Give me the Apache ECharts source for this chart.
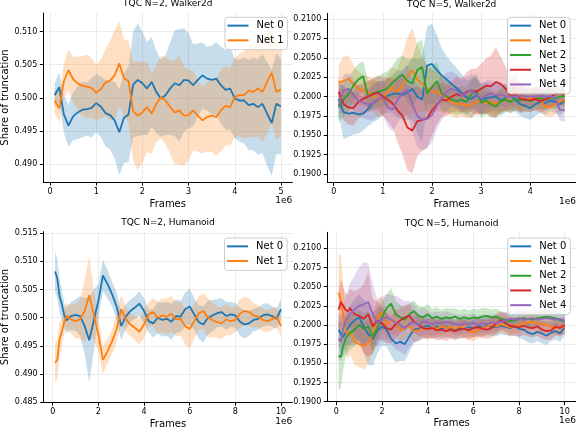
<!DOCTYPE html>
<html>
<head>
<meta charset="utf-8">
<script src="https://cdn.jsdelivr.net/npm/echarts@6/dist/echarts.min.js"></script>
<style>
  html, body { margin: 0; padding: 0; background: #fff; }
  #chart { width: 576px; height: 432px; }
</style>
</head>
<body>
<div id="chart"></div>
<script>
// frames (in 1e6) sampled along each run
const w2Frames = [0.1, 0.2, 0.3, 0.4, 0.5, 0.6, 0.7, 0.8, 0.9, 1.0,
  1.1, 1.2, 1.3, 1.4, 1.5, 1.6, 1.7, 1.8, 1.9, 2.0,
  2.1, 2.2, 2.3, 2.4, 2.5, 2.6, 2.7, 2.8, 2.9, 3.0,
  3.1, 3.2, 3.3, 3.4, 3.5, 3.6, 3.7, 3.8, 3.9, 4.0,
  4.1, 4.2, 4.3, 4.4, 4.5, 4.6, 4.7, 4.8, 4.9, 5.0]
const w5Frames = [0.1, 0.2, 0.3, 0.4, 0.5, 0.6, 0.7, 0.8, 0.9, 1.0,
  1.1, 1.2, 1.3, 1.4, 1.5, 1.6, 1.7, 1.8, 1.9, 2.0,
  2.1, 2.2, 2.3, 2.4, 2.5, 2.6, 2.7, 2.8, 2.9, 3.0,
  3.1, 3.2, 3.3, 3.4, 3.5, 3.6, 3.7, 3.8, 3.9, 4.0,
  4.1, 4.2, 4.3, 4.4, 4.5, 4.6, 4.7]
const humFrames = [0.1, 0.2, 0.3, 0.4, 0.5, 0.6,
  0.8, 1.0, 1.2, 1.4, 1.6, 1.8, 2.0, 2.2, 2.4, 2.6,
  2.8, 3.0, 3.2, 3.4, 3.6, 3.8, 4.0, 4.2, 4.4, 4.6,
  4.8, 5.0, 5.2, 5.4, 5.6, 5.8, 6.0, 6.2, 6.4, 6.6,
  6.8, 7.0, 7.2, 7.4, 7.6, 7.8, 8.0, 8.2, 8.4, 8.6,
  8.8, 9.0, 9.2, 9.4, 9.6, 9.8, 10.0]

// TQC N=2, Walker2d: mean share and half width of the shaded band
const w2Net0 = [0.5004, 0.5016, 0.4975, 0.4958, 0.4972, 0.4978, 0.4982, 0.4983, 0.4985, 0.4992,
  0.4987, 0.4977, 0.4974, 0.4966, 0.4948, 0.4970, 0.4975, 0.5020, 0.5027, 0.5022,
  0.5014, 0.5024, 0.5009, 0.4999, 0.5004, 0.5014, 0.5022, 0.5019, 0.5027, 0.5026,
  0.5019, 0.5027, 0.5034, 0.5029, 0.5027, 0.5029, 0.5019, 0.5012, 0.5014, 0.4999,
  0.4996, 0.4996, 0.4989, 0.4991, 0.4986, 0.4991, 0.4976, 0.4962, 0.4991, 0.4987]
const w2Net1 = [0.4996, 0.4984, 0.5025, 0.5042, 0.5028, 0.5022, 0.5018, 0.5017, 0.5015, 0.5008,
  0.5013, 0.5023, 0.5026, 0.5034, 0.5052, 0.5030, 0.5025, 0.4980, 0.4973, 0.4978,
  0.4986, 0.4976, 0.4991, 0.5001, 0.4996, 0.4986, 0.4978, 0.4981, 0.4973, 0.4974,
  0.4981, 0.4973, 0.4966, 0.4971, 0.4973, 0.4971, 0.4981, 0.4988, 0.4986, 0.5001,
  0.5004, 0.5004, 0.5011, 0.5009, 0.5014, 0.5009, 0.5024, 0.5038, 0.5009, 0.5013]
const w2Band0 = [0.0018, 0.0022, 0.0028, 0.0032, 0.0036, 0.0040, 0.0042, 0.0040, 0.0045, 0.0044,
  0.0046, 0.0050, 0.0052, 0.0058, 0.0065, 0.0068, 0.0072, 0.0080, 0.0085, 0.0078,
  0.0070, 0.0068, 0.0062, 0.0058, 0.0060, 0.0070, 0.0080, 0.0085, 0.0078, 0.0072,
  0.0062, 0.0055, 0.0050, 0.0048, 0.0052, 0.0055, 0.0058, 0.0060, 0.0062, 0.0060,
  0.0062, 0.0065, 0.0068, 0.0070, 0.0072, 0.0075, 0.0078, 0.0080, 0.0076, 0.0072]
const w2Band1 = [0.0018, 0.0022, 0.0026, 0.0030, 0.0034, 0.0040, 0.0045, 0.0048, 0.0045, 0.0042,
  0.0045, 0.0050, 0.0060, 0.0068, 0.0064, 0.0058, 0.0062, 0.0075, 0.0082, 0.0076,
  0.0068, 0.0060, 0.0058, 0.0062, 0.0066, 0.0070, 0.0078, 0.0082, 0.0075, 0.0068,
  0.0060, 0.0054, 0.0050, 0.0052, 0.0055, 0.0058, 0.0062, 0.0060, 0.0058, 0.0060,
  0.0062, 0.0066, 0.0070, 0.0068, 0.0072, 0.0075, 0.0078, 0.0076, 0.0072, 0.0070]

// TQC N=5, Walker2d
const w5Net0 = [0.1997, 0.1980, 0.1978, 0.1979, 0.1977, 0.1978, 0.1984, 0.1992, 0.1995, 0.1998,
  0.2001, 0.2003, 0.2004, 0.2002, 0.2005, 0.2010, 0.2000, 0.1996, 0.2040, 0.2042,
  0.2034, 0.2027, 0.2022, 0.2016, 0.2011, 0.2005, 0.1999, 0.1997, 0.2002, 0.1996,
  0.1998, 0.1999, 0.2000, 0.1995, 0.1998, 0.2001, 0.1996, 0.1990, 0.1988, 0.1985,
  0.1990, 0.1993, 0.1991, 0.1995, 0.1993, 0.1990, 0.1995]
const w5Net1 = [0.2018, 0.2020, 0.2023, 0.2016, 0.2010, 0.2008, 0.2006, 0.2001, 0.1996, 0.1995,
  0.2007, 0.2012, 0.2006, 0.2015, 0.2026, 0.2034, 0.2022, 0.2016, 0.2010, 0.2007,
  0.2006, 0.2002, 0.1997, 0.1993, 0.1990, 0.1991, 0.1988, 0.1990, 0.1993, 0.1994,
  0.1991, 0.1993, 0.1990, 0.1994, 0.1995, 0.2003, 0.2008, 0.1998, 0.2001, 0.1997,
  0.2000, 0.1995, 0.1988, 0.1986, 0.1990, 0.1993, 0.1996]
const w5Net2 = [0.1986, 0.1996, 0.2003, 0.2014, 0.2022, 0.2026, 0.2000, 0.2004, 0.2006, 0.2008,
  0.2011, 0.2018, 0.2024, 0.2028, 0.2020, 0.2017, 0.2034, 0.2038, 0.2004, 0.2012,
  0.2020, 0.2004, 0.2000, 0.1996, 0.1994, 0.1996, 0.1993, 0.2003, 0.2007, 0.1992,
  0.1995, 0.1990, 0.1987, 0.1994, 0.1996, 0.1993, 0.1997, 0.1995, 0.1996, 0.1994,
  0.1997, 0.1998, 0.1996, 0.1999, 0.1997, 0.2000, 0.2000]
const w5Net3 = [0.2006, 0.1990, 0.1986, 0.1985, 0.1993, 0.1997, 0.2000, 0.2003, 0.2005, 0.2000,
  0.1996, 0.1991, 0.1982, 0.1975, 0.1960, 0.1956, 0.1968, 0.1970, 0.1972, 0.1982,
  0.1990, 0.1996, 0.1995, 0.2000, 0.2003, 0.2001, 0.2006, 0.2008, 0.2006, 0.2010,
  0.2014, 0.2013, 0.2019, 0.2016, 0.2010, 0.2001, 0.2003, 0.1997, 0.1996, 0.1995,
  0.1997, 0.1994, 0.1996, 0.1999, 0.2003, 0.2004, 0.2002]
const w5Net4 = [0.1988, 0.2008, 0.2010, 0.2002, 0.1995, 0.1992, 0.1990, 0.1991, 0.1997, 0.1998,
  0.1986, 0.1983, 0.1996, 0.2004, 0.2009, 0.1990, 0.1975, 0.1970, 0.1971, 0.1976,
  0.1988, 0.1998, 0.2006, 0.2010, 0.2008, 0.2001, 0.2004, 0.2008, 0.2003, 0.1997,
  0.2002, 0.2004, 0.2001, 0.2003, 0.2000, 0.2000, 0.2000, 0.2001, 0.2000, 0.2000,
  0.2000, 0.2001, 0.2000, 0.2000, 0.1999, 0.1983, 0.1982]
const w5Band0 = [0.0020, 0.0035, 0.0030, 0.0028, 0.0025, 0.0022, 0.0022, 0.0025, 0.0025, 0.0022,
  0.0022, 0.0025, 0.0030, 0.0032, 0.0035, 0.0040, 0.0048, 0.0055, 0.0050, 0.0052,
  0.0045, 0.0035, 0.0030, 0.0028, 0.0026, 0.0024, 0.0022, 0.0025, 0.0022, 0.0020,
  0.0020, 0.0018, 0.0018, 0.0020, 0.0018, 0.0018, 0.0016, 0.0015, 0.0016, 0.0015,
  0.0015, 0.0014, 0.0015, 0.0014, 0.0014, 0.0015, 0.0014]
const w5Band1 = [0.0022, 0.0032, 0.0030, 0.0025, 0.0022, 0.0020, 0.0020, 0.0022, 0.0022, 0.0020,
  0.0022, 0.0025, 0.0030, 0.0040, 0.0050, 0.0055, 0.0045, 0.0035, 0.0030, 0.0028,
  0.0025, 0.0022, 0.0020, 0.0018, 0.0018, 0.0016, 0.0016, 0.0018, 0.0016, 0.0015,
  0.0015, 0.0015, 0.0016, 0.0015, 0.0014, 0.0018, 0.0022, 0.0018, 0.0015, 0.0014,
  0.0014, 0.0014, 0.0013, 0.0013, 0.0014, 0.0013, 0.0013]
const w5Band2 = [0.0020, 0.0022, 0.0022, 0.0020, 0.0020, 0.0020, 0.0020, 0.0020, 0.0020, 0.0022,
  0.0022, 0.0022, 0.0025, 0.0025, 0.0028, 0.0032, 0.0036, 0.0035, 0.0030, 0.0028,
  0.0025, 0.0022, 0.0020, 0.0018, 0.0018, 0.0018, 0.0018, 0.0020, 0.0022, 0.0020,
  0.0018, 0.0016, 0.0016, 0.0016, 0.0015, 0.0015, 0.0015, 0.0015, 0.0014, 0.0014,
  0.0014, 0.0014, 0.0013, 0.0013, 0.0013, 0.0013, 0.0013]
const w5Band3 = [0.0018, 0.0020, 0.0022, 0.0022, 0.0022, 0.0020, 0.0020, 0.0020, 0.0022, 0.0025,
  0.0028, 0.0032, 0.0040, 0.0050, 0.0055, 0.0055, 0.0045, 0.0040, 0.0038, 0.0032,
  0.0026, 0.0022, 0.0020, 0.0020, 0.0022, 0.0022, 0.0025, 0.0028, 0.0030, 0.0032,
  0.0035, 0.0040, 0.0045, 0.0035, 0.0028, 0.0022, 0.0020, 0.0018, 0.0016, 0.0015,
  0.0015, 0.0015, 0.0014, 0.0014, 0.0014, 0.0014, 0.0013]
const w5Band4 = [0.0018, 0.0020, 0.0020, 0.0020, 0.0020, 0.0020, 0.0020, 0.0022, 0.0022, 0.0022,
  0.0025, 0.0028, 0.0030, 0.0030, 0.0032, 0.0035, 0.0040, 0.0040, 0.0038, 0.0035,
  0.0030, 0.0028, 0.0025, 0.0022, 0.0020, 0.0020, 0.0020, 0.0022, 0.0022, 0.0020,
  0.0018, 0.0018, 0.0016, 0.0015, 0.0015, 0.0012, 0.0012, 0.0012, 0.0012, 0.0012,
  0.0012, 0.0012, 0.0012, 0.0012, 0.0012, 0.0014, 0.0015]

// TQC N=2, Humanoid
const h2Net0 = [0.5082, 0.5070, 0.5038, 0.5024, 0.5005, 0.4995,
  0.5003, 0.5005, 0.5003, 0.4985, 0.4960, 0.4995, 0.5030, 0.5075, 0.5060, 0.5042,
  0.5020, 0.4985, 0.5002, 0.5012, 0.5018, 0.5025, 0.5012, 0.4994, 0.4990, 0.5000,
  0.4996, 0.4998, 0.4993, 0.5003, 0.5002, 0.5015, 0.5020, 0.5006, 0.4992, 0.4988,
  0.5000, 0.5004, 0.5008, 0.5010, 0.5003, 0.5006, 0.5004, 0.4993, 0.4988, 0.4990,
  0.4996, 0.4998, 0.5004, 0.5006, 0.5003, 0.4998, 0.5015]
const h2Net1 = [0.4920, 0.4925, 0.4962, 0.4975, 0.4992, 0.5004,
  0.4997, 0.4994, 0.4997, 0.5012, 0.5040, 0.5005, 0.4970, 0.4925, 0.4940, 0.4958,
  0.4980, 0.5015, 0.4998, 0.4988, 0.4982, 0.4975, 0.4988, 0.5006, 0.5010, 0.5000,
  0.5004, 0.5002, 0.5007, 0.4997, 0.4998, 0.4985, 0.4980, 0.4994, 0.5008, 0.5012,
  0.5000, 0.4996, 0.4992, 0.4990, 0.4997, 0.4994, 0.4996, 0.5007, 0.5012, 0.5010,
  0.5004, 0.5002, 0.4996, 0.4994, 0.4997, 0.5002, 0.4985]
const h2Band0 = [0.0035, 0.0035, 0.0030, 0.0025, 0.0022, 0.0022, 0.0025, 0.0028, 0.0035, 0.0050,
  0.0075, 0.0055, 0.0030, 0.0028, 0.0025, 0.0022, 0.0025, 0.0025, 0.0022, 0.0020,
  0.0020, 0.0022, 0.0022, 0.0020, 0.0025, 0.0028, 0.0030, 0.0030, 0.0032, 0.0030,
  0.0028, 0.0030, 0.0032, 0.0028, 0.0030, 0.0032, 0.0030, 0.0028, 0.0025, 0.0025,
  0.0025, 0.0022, 0.0022, 0.0025, 0.0025, 0.0022, 0.0020, 0.0020, 0.0020, 0.0020,
  0.0018, 0.0018, 0.0018]
const h2Band1 = [0.0035, 0.0035, 0.0030, 0.0025, 0.0022, 0.0022, 0.0025, 0.0030, 0.0035, 0.0055,
  0.0070, 0.0045, 0.0030, 0.0025, 0.0022, 0.0022, 0.0025, 0.0025, 0.0022, 0.0020,
  0.0022, 0.0022, 0.0025, 0.0022, 0.0025, 0.0028, 0.0030, 0.0032, 0.0032, 0.0030,
  0.0030, 0.0032, 0.0035, 0.0030, 0.0030, 0.0032, 0.0035, 0.0030, 0.0028, 0.0028,
  0.0028, 0.0025, 0.0022, 0.0025, 0.0025, 0.0025, 0.0022, 0.0020, 0.0020, 0.0020,
  0.0020, 0.0018, 0.0018]

// TQC N=5, Humanoid
const h5Net0 = [0.1994, 0.1988, 0.1984, 0.1990, 0.1995, 0.2000,
  0.2006, 0.2010, 0.1998, 0.1988, 0.1982, 0.1993, 0.1998, 0.1994, 0.1982, 0.1976,
  0.1978, 0.1975, 0.1985, 0.1994, 0.1995, 0.1997, 0.1999, 0.1996, 0.1998, 0.1995,
  0.1997, 0.1996, 0.1994, 0.1996, 0.1995, 0.1997, 0.1996, 0.1998, 0.1997, 0.1999,
  0.1998, 0.1997, 0.1999, 0.1998, 0.1996, 0.1998, 0.1995, 0.1994, 0.1990, 0.1988,
  0.1991, 0.1989, 0.1986, 0.1990, 0.1992, 0.1989, 0.1997]
const h5Net1 = [0.2042, 0.2032, 0.2012, 0.1994, 0.1986, 0.1992,
  0.1978, 0.1975, 0.1972, 0.1977, 0.1988, 0.2010, 0.2016, 0.2000, 0.2006, 0.2004,
  0.1993, 0.1996, 0.1998, 0.1992, 0.1993, 0.1996, 0.1994, 0.1997, 0.1995, 0.1998,
  0.1996, 0.1997, 0.1995, 0.1998, 0.1996, 0.1992, 0.1990, 0.1993, 0.1996, 0.1998,
  0.2000, 0.1998, 0.2001, 0.1999, 0.1997, 0.1999, 0.2000, 0.2002, 0.2003, 0.2004,
  0.2002, 0.2001, 0.2000, 0.1998, 0.1996, 0.1998, 0.1997]
const h5Net2 = [0.1960, 0.1958, 0.1972, 0.1982, 0.1986, 0.1990,
  0.1994, 0.2000, 0.1995, 0.1998, 0.1984, 0.1997, 0.2010, 0.2022, 0.2028, 0.2014,
  0.2010, 0.2007, 0.2014, 0.2018, 0.2012, 0.2010, 0.2014, 0.2009, 0.2011, 0.2008,
  0.2010, 0.2009, 0.2011, 0.2008, 0.2010, 0.2008, 0.2010, 0.2009, 0.2011, 0.2012,
  0.2010, 0.2011, 0.2008, 0.2006, 0.2005, 0.2006, 0.2008, 0.2009, 0.2008, 0.2007,
  0.2009, 0.2010, 0.2011, 0.2010, 0.2009, 0.2006, 0.2005]
const h5Net3 = [0.2020, 0.2030, 0.2025, 0.2020, 0.2018, 0.2022,
  0.2014, 0.2012, 0.2008, 0.2014, 0.1998, 0.2006, 0.2002, 0.1996, 0.1994, 0.2001,
  0.2006, 0.2010, 0.2012, 0.2004, 0.2000, 0.1996, 0.1995, 0.1996, 0.1993, 0.1994,
  0.1992, 0.1994, 0.1992, 0.1994, 0.1995, 0.1993, 0.1996, 0.1997, 0.1995, 0.1994,
  0.1996, 0.2002, 0.2006, 0.2003, 0.1999, 0.1998, 0.1997, 0.1999, 0.1997, 0.1996,
  0.1998, 0.1994, 0.1992, 0.1993, 0.1998, 0.1996, 0.2000]
const h5Net4 = [0.1982, 0.1978, 0.1995, 0.2005, 0.2010, 0.2014,
  0.2020, 0.2025, 0.2027, 0.2030, 0.2014, 0.2002, 0.2008, 0.2010, 0.2007, 0.2003,
  0.2000, 0.1996, 0.2001, 0.2003, 0.2000, 0.2005, 0.2003, 0.2001, 0.2003, 0.2002,
  0.2004, 0.2003, 0.2001, 0.2000, 0.2002, 0.2001, 0.2003, 0.2000, 0.2002, 0.2001,
  0.2003, 0.2002, 0.2004, 0.2006, 0.2008, 0.2007, 0.2009, 0.2007, 0.2008, 0.2009,
  0.2007, 0.2008, 0.2009, 0.2008, 0.2007, 0.2008, 0.2005]
const h5Band0 = [0.0020, 0.0025, 0.0025, 0.0025, 0.0025, 0.0025, 0.0028, 0.0030, 0.0035, 0.0040,
  0.0035, 0.0030, 0.0025, 0.0022, 0.0022, 0.0025, 0.0025, 0.0022, 0.0020, 0.0018,
  0.0016, 0.0015, 0.0015, 0.0014, 0.0014, 0.0013, 0.0013, 0.0013, 0.0012, 0.0013,
  0.0012, 0.0012, 0.0012, 0.0012, 0.0012, 0.0012, 0.0012, 0.0012, 0.0011, 0.0011,
  0.0011, 0.0012, 0.0012, 0.0013, 0.0013, 0.0012, 0.0012, 0.0013, 0.0012, 0.0011,
  0.0011, 0.0011, 0.0010]
const h5Band1 = [0.0050, 0.0060, 0.0040, 0.0030, 0.0030, 0.0030, 0.0030, 0.0030, 0.0030, 0.0028,
  0.0025, 0.0025, 0.0022, 0.0020, 0.0018, 0.0018, 0.0016, 0.0015, 0.0015, 0.0014,
  0.0014, 0.0013, 0.0013, 0.0013, 0.0012, 0.0012, 0.0012, 0.0012, 0.0012, 0.0012,
  0.0012, 0.0012, 0.0011, 0.0011, 0.0011, 0.0011, 0.0011, 0.0011, 0.0011, 0.0011,
  0.0011, 0.0010, 0.0010, 0.0010, 0.0010, 0.0010, 0.0010, 0.0010, 0.0010, 0.0010,
  0.0010, 0.0010, 0.0010]
const h5Band2 = [0.0045, 0.0040, 0.0030, 0.0025, 0.0022, 0.0022, 0.0022, 0.0020, 0.0020, 0.0020,
  0.0020, 0.0022, 0.0020, 0.0018, 0.0020, 0.0018, 0.0016, 0.0015, 0.0014, 0.0014,
  0.0013, 0.0013, 0.0013, 0.0012, 0.0012, 0.0012, 0.0012, 0.0012, 0.0011, 0.0011,
  0.0011, 0.0011, 0.0011, 0.0011, 0.0011, 0.0010, 0.0010, 0.0010, 0.0010, 0.0010,
  0.0010, 0.0010, 0.0010, 0.0010, 0.0010, 0.0010, 0.0010, 0.0010, 0.0010, 0.0010,
  0.0010, 0.0010, 0.0010]
const h5Band3 = [0.0025, 0.0030, 0.0025, 0.0022, 0.0022, 0.0025, 0.0030, 0.0035, 0.0045, 0.0055,
  0.0035, 0.0025, 0.0022, 0.0020, 0.0018, 0.0018, 0.0016, 0.0016, 0.0015, 0.0014,
  0.0014, 0.0013, 0.0013, 0.0013, 0.0013, 0.0013, 0.0013, 0.0012, 0.0012, 0.0012,
  0.0012, 0.0012, 0.0012, 0.0012, 0.0012, 0.0012, 0.0013, 0.0013, 0.0012, 0.0012,
  0.0012, 0.0012, 0.0012, 0.0012, 0.0012, 0.0012, 0.0012, 0.0012, 0.0012, 0.0012,
  0.0011, 0.0011, 0.0011]
const h5Band4 = [0.0025, 0.0025, 0.0025, 0.0030, 0.0035, 0.0040, 0.0045, 0.0050, 0.0055, 0.0050,
  0.0040, 0.0030, 0.0028, 0.0030, 0.0032, 0.0035, 0.0035, 0.0035, 0.0030, 0.0025,
  0.0020, 0.0018, 0.0016, 0.0015, 0.0015, 0.0014, 0.0014, 0.0013, 0.0013, 0.0013,
  0.0012, 0.0012, 0.0012, 0.0012, 0.0012, 0.0012, 0.0011, 0.0011, 0.0011, 0.0011,
  0.0011, 0.0011, 0.0011, 0.0011, 0.0011, 0.0011, 0.0011, 0.0011, 0.0011, 0.0011,
  0.0011, 0.0011, 0.0011]

// tick positions
const xTicksW2 = [0, 1, 2, 3, 4, 5]
const xTicksW5 = [0, 1, 2, 3, 4]
const xTicksHum = [0, 2, 4, 6, 8, 10]
const yTicksN2Walker = [0.490, 0.495, 0.500, 0.505, 0.510]
const yTicksN2Hum = [0.485, 0.490, 0.495, 0.500, 0.505, 0.510, 0.515]
const yTicksN5 = [0.1900, 0.1925, 0.1950, 0.1975, 0.2000, 0.2025, 0.2050, 0.2075, 0.2100]

const NETS = ['Net 0', 'Net 1', 'Net 2', 'Net 3', 'Net 4']
const COLORS = ['#1f77b4', '#ff7f0e', '#2ca02c', '#d62728', '#9467bd']
const BAND_FILLS = [
  'rgba(31,119,180,0.25)', 'rgba(255,127,14,0.25)', 'rgba(44,160,44,0.25)',
  'rgba(214,39,40,0.25)', 'rgba(148,103,189,0.25)',
]
const FONT = 'DejaVu Sans'

const panels = [
  {
    title: 'TQC N=2, Walker2d', frames: w2Frames,
    means: [w2Net0, w2Net1], bands: [w2Band0, w2Band1],
    grid: { left: 43.3, top: 13, width: 249, height: 169 },
    x: [-0.145, 5.245], xTicks: xTicksW2,
    y: [0.4873, 0.5128], yTicks: yTicksN2Walker, digits: 3, yName: 'Share of truncation',
    legend: { left: 225, top: 17.3 },
  },
  {
    title: 'TQC N=5, Walker2d', frames: w5Frames,
    means: [w5Net0, w5Net1, w5Net2, w5Net3, w5Net4],
    bands: [w5Band0, w5Band1, w5Band2, w5Band3, w5Band4],
    grid: { left: 327.3, top: 13.3, width: 248.7, height: 169 },
    x: [-0.13, 4.93], xTicks: xTicksW5,
    y: [0.18893, 0.21074], yTicks: yTicksN5, digits: 4, yName: '',
    legend: { left: 507.5, top: 17.3 },
  },
  {
    title: 'TQC N=2, Humanoid', frames: humFrames,
    means: [h2Net0, h2Net1], bands: [h2Band0, h2Band1],
    grid: { left: 43.7, top: 231.7, width: 248.6, height: 170.6 },
    x: [-0.395, 10.495], xTicks: xTicksHum,
    y: [0.48497, 0.51528], yTicks: yTicksN2Hum, digits: 3, yName: 'Share of truncation',
    legend: { left: 224.5, top: 238 },
  },
  {
    title: 'TQC N=5, Humanoid', frames: humFrames,
    means: [h5Net0, h5Net1, h5Net2, h5Net3, h5Net4],
    bands: [h5Band0, h5Band1, h5Band2, h5Band3, h5Band4],
    grid: { left: 327.3, top: 232.3, width: 248.7, height: 169.4 },
    x: [-0.395, 10.495], xTicks: xTicksHum,
    y: [0.18999, 0.21209], yTicks: yTicksN5, digits: 4, yName: '',
    legend: { left: 507.7, top: 238 },
  },
]

const grids = []
const xAxes = []
const yAxes = []
const legends = []
const series = []
const graphics = []

panels.forEach((p, i) => {
  grids.push(Object.assign({ outerBoundsMode: 'none', containLabel: false }, p.grid))

  xAxes.push({
    gridIndex: i, type: 'value', min: p.x[0], max: p.x[1],
    name: 'Frames', nameLocation: 'middle', nameGap: 17, nameMoveOverlap: false,
    nameTextStyle: { fontFamily: FONT, fontSize: 10, color: '#000' },
    axisLine: { show: true, onZero: false, lineStyle: { color: '#000', width: 1 } },
    axisTick: { show: true, length: 3.5, customValues: p.xTicks, lineStyle: { color: '#000' } },
    axisLabel: {
      customValues: p.xTicks, margin: 6, fontFamily: FONT, fontSize: 8, color: '#000',
      formatter: (v) => String(Math.round(v)),
    },
    splitLine: { show: true, lineStyle: { color: '#ebebeb', width: 1 } },
  })

  yAxes.push({
    gridIndex: i, type: 'value', min: p.y[0], max: p.y[1],
    name: p.yName, nameLocation: 'middle', nameGap: 33, nameMoveOverlap: false,
    nameTextStyle: { fontFamily: FONT, fontSize: 10, color: '#000' },
    axisLine: { show: true, onZero: false, lineStyle: { color: '#000', width: 1 } },
    axisTick: { show: true, length: 3.5, customValues: p.yTicks, lineStyle: { color: '#000' } },
    axisLabel: {
      customValues: p.yTicks, margin: 6, fontFamily: FONT, fontSize: 8, color: '#000',
      formatter: (v) => v.toFixed(p.digits),
    },
    splitLine: { show: true, lineStyle: { color: '#ebebeb', width: 1 } },
  })

  // shaded band: one polygon per net, corners placed through the axes
  p.means.forEach((mean, k) => {
    const band = p.bands[k]
    const rows = p.frames.map((x, j) => [x, mean[j] - band[j], mean[j] + band[j]])
    series.push({
      type: 'custom', xAxisIndex: i, yAxisIndex: i, silent: true, z: 2, clip: true,
      encode: { x: 0, y: [1, 2] },
      data: rows,
      renderItem: (params, api) => {
        if (params.dataIndex !== 0) return null
        const upper = rows.map((r) => api.coord([r[0], r[2]]))
        const lower = rows.map((r) => api.coord([r[0], r[1]])).reverse()
        return {
          type: 'polygon',
          shape: { points: upper.concat(lower) },
          style: { fill: BAND_FILLS[k], stroke: null },
        }
      },
    })
  })

  p.means.forEach((mean, k) => {
    series.push({
      name: NETS[k], type: 'line', xAxisIndex: i, yAxisIndex: i, symbol: 'none', z: 3,
      lineStyle: { color: COLORS[k], width: 1.8 },
      itemStyle: { color: COLORS[k] },
      data: p.frames.map((x, j) => [x, mean[j]]),
    })
  })

  legends.push({
    orient: 'vertical', left: p.legend.left, top: p.legend.top,
    padding: [2, 4, 3, 2.5], itemWidth: 21, itemHeight: 2, itemGap: 2, icon: 'rect',
    backgroundColor: 'rgba(255,255,255,0.8)', borderColor: '#cccccc', borderWidth: 1, borderRadius: 3,
    textStyle: { fontFamily: FONT, fontSize: 10, color: '#000', lineHeight: 12.7, padding: [0, 0, 0, 3] },
    data: NETS.slice(0, p.means.length),
  })

  const g = p.grid
  graphics.push({
    type: 'text', x: g.left + g.width / 2, y: g.top - 9,
    style: { text: p.title, fontFamily: FONT, fontSize: 9, fill: '#000', align: 'center', verticalAlign: 'middle' },
  })
  graphics.push({
    type: 'text', x: g.left + g.width, y: g.top + g.height + 19,
    style: { text: '1e6', fontFamily: FONT, fontSize: 9, fill: '#000', align: 'right', verticalAlign: 'middle' },
  })
})

const chart = echarts.init(document.getElementById('chart'), null, { renderer: 'canvas' })
chart.setOption({
  animation: false,
  backgroundColor: '#fff',
  textStyle: { fontFamily: FONT },
  grid: grids,
  xAxis: xAxes,
  yAxis: yAxes,
  legend: legends,
  series,
  graphic: graphics,
})
</script>
</body>
</html>
